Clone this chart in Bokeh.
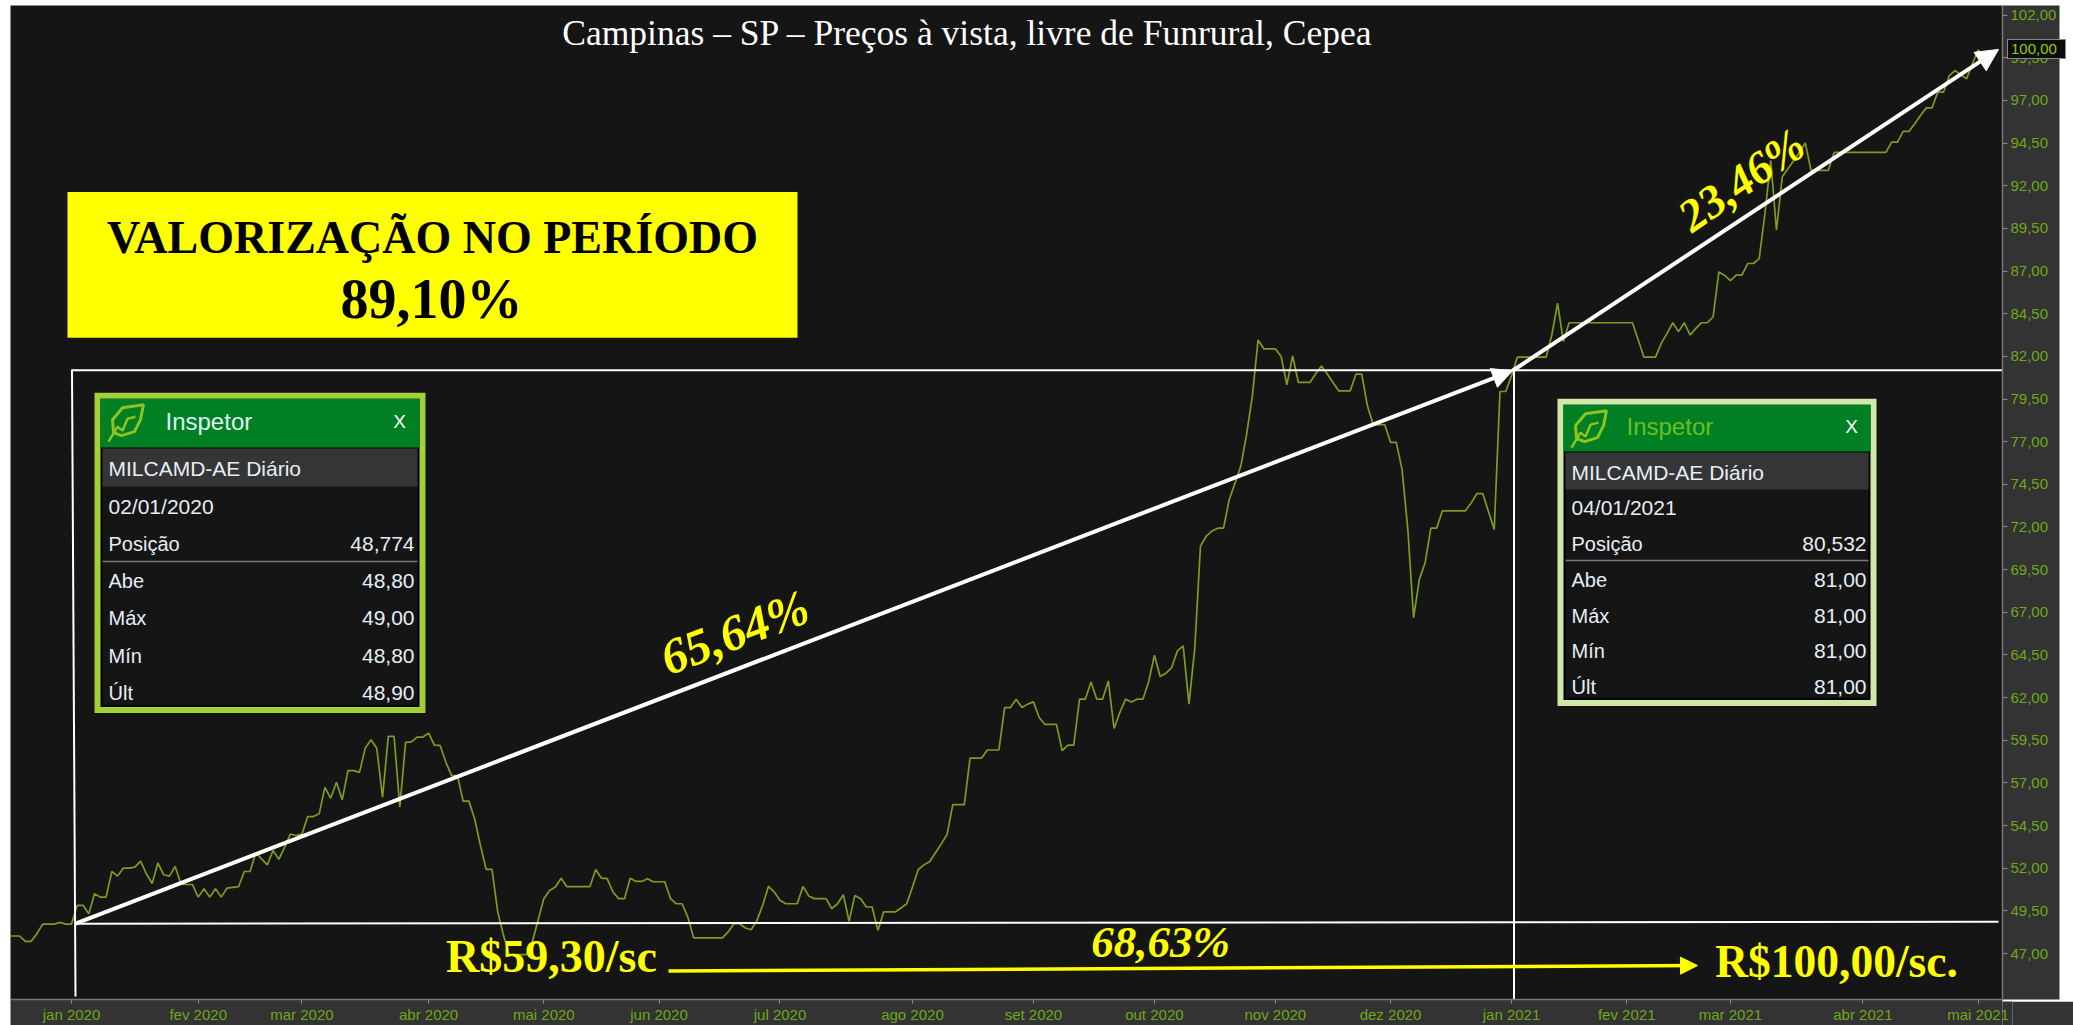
from bokeh.plotting import figure
from bokeh.layouts import column
from bokeh.embed import file_html
from bokeh.resources import INLINE
from bokeh.core.properties import value
from bokeh.models import Range1d, FixedTicker, Arrow, NormalHead, Div

# ---------- data ----------
first_day = -11
prices = [
    48.03, 48.03, 48.03, 47.72, 47.72, 48.17, 48.73, 48.73, 48.73, 48.83, 48.73, 48.73,
    49.83, 49.83, 49.34, 50.51, 50.31, 50.31, 51.81, 51.54, 52.01, 52.01, 52.07, 52.42,
    51.68, 51.11, 52.32, 51.62, 51.54, 52.11, 51.09, 51.05, 51.05, 50.31, 50.80, 50.31,
    50.80, 50.31, 50.84, 50.88, 50.92, 51.81, 51.81, 52.91, 52.55, 52.20, 53.04, 52.52,
    53.24, 54.00, 53.92, 54.00, 55.03, 55.03, 55.19, 56.74, 56.10, 57.04, 56.02, 57.72,
    57.72, 57.62, 59.04, 59.53, 59.03, 56.16, 59.73, 59.73, 55.58, 59.38, 59.41, 59.69,
    59.69, 59.92, 59.22, 59.20, 58.21, 57.43, 57.43, 55.93, 55.93, 54.89, 53.33, 51.93,
    51.93, 49.44, 48.07, 46.94, 46.94, 46.94, 46.94, 47.68, 48.95, 50.22, 50.70, 50.90,
    51.42, 50.92, 50.92, 50.92, 50.92, 50.92, 51.93, 51.42, 51.39, 50.61, 50.22, 50.22,
    51.42, 51.23, 51.23, 51.39, 51.21, 51.21, 51.21, 50.22, 49.92, 49.92, 49.14, 47.92,
    47.92, 47.92, 47.92, 47.92, 47.92, 48.27, 48.75, 48.75, 48.50, 48.40, 48.95, 49.83,
    50.94, 50.61, 50.12, 49.92, 49.92, 49.92, 50.94, 50.37, 50.22, 50.22, 50.22, 49.63,
    49.92, 50.45, 48.89, 50.41, 50.22, 49.73, 49.73, 48.36, 49.44, 49.44, 49.44, 49.67,
    49.92, 50.90, 51.93, 52.20, 52.40, 52.91, 53.43, 53.96, 55.73, 55.73, 55.73, 58.46,
    58.46, 58.46, 58.93, 58.93, 58.93, 61.42, 61.42, 61.91, 61.42, 61.62, 61.75, 60.84,
    60.43, 60.43, 60.43, 58.89, 59.22, 59.22, 61.91, 61.91, 62.92, 61.91, 61.91, 62.98,
    60.19, 61.13, 61.91, 61.75, 61.91, 61.91, 62.92, 64.48, 63.24, 63.43, 63.76, 64.74,
    65.03, 61.62, 64.84, 70.88, 71.46, 71.76, 71.93, 71.93, 73.61, 74.58, 75.56, 77.41,
    79.65, 82.96, 82.44, 82.44, 82.44, 81.99, 80.33, 82.03, 80.47, 80.47, 80.47, 80.98,
    81.44, 80.98, 80.47, 79.98, 79.98, 79.98, 80.96, 80.96, 79.07, 77.99, 77.99, 77.99,
    76.96, 76.96, 75.36, 71.85, 66.69, 68.93, 69.90, 71.93, 71.93, 72.95, 72.95, 72.95,
    72.95, 72.95, 73.41, 73.96, 73.96, 72.91, 71.85, 79.94, 79.94, 80.86, 81.95, 81.95,
    81.95, 81.95, 81.95, 81.95, 83.26, 85.11, 82.87, 83.97, 83.97, 83.97, 83.97, 83.97,
    83.97, 83.97, 83.97, 83.97, 83.97, 83.97, 83.97, 82.96, 81.95, 81.95, 81.95, 82.76,
    83.35, 83.97, 83.45, 83.97, 83.25, 83.64, 83.97, 83.97, 84.32, 86.95, 86.74, 86.43,
    86.76, 86.76, 87.44, 87.44, 87.73, 90.37, 93.48, 89.39, 92.51, 93.00, 93.48, 93.97,
    94.50, 92.90, 92.90, 92.90, 92.90, 93.95, 93.95, 93.95, 93.95, 93.95, 93.95, 93.95,
    93.95, 93.95, 93.95, 94.55, 94.55, 95.18, 95.18, 95.63, 96.11, 96.56, 96.56, 97.48,
    97.48, 98.45, 98.75, 98.51, 98.26, 99.13, 99.95, 99.62,
]
days = [first_day + i for i in range(len(prices))]

month_days = [0, 22, 40, 62, 82, 102, 123, 146, 167, 188, 209, 229, 250, 270, 288, 311, 331]
month_labels = ["jan 2020", "fev 2020", "mar 2020", "abr 2020", "mai 2020", "jun 2020", "jul 2020",
                "ago 2020", "set 2020", "out 2020", "nov 2020", "dez 2020", "jan 2021", "fev 2021",
                "mar 2021", "abr 2021", "mai 2021"]
price_ticks = [47, 49.5, 52, 54.5, 57, 59.5, 62, 64.5, 67, 69.5, 72, 74.5, 77, 79.5, 82, 84.5, 87,
               89.5, 92, 94.5, 97, 99.5, 102]
price_labels = ["47,00", "49,50", "52,00", "54,50", "57,00", "59,50", "62,00", "64,50", "67,00",
                "69,50", "72,00", "74,50", "77,00", "79,50", "82,00", "84,50", "87,00", "89,50",
                "92,00", "94,50", "97,00", "99,50", "102,00"]
last_price = "100,00"

title_text = "Campinas – SP – Preços à vista, livre de Funrural, Cepea"
box_lines = ["VALORIZAÇÃO NO PERÍODO", "89,10%"]
row_names = ["Abe", "Máx", "Mín", "Últ"]
left_panel = dict(symbol="MILCAMD-AE Diário", date="02/01/2020", pos="48,774", vals=["48,80", "49,00", "48,80", "48,90"])
right_panel = dict(symbol="MILCAMD-AE Diário", date="04/01/2021", pos="80,532", vals=["81,00", "81,00", "81,00", "81,00"])

# ---------- figure ----------
DARK = "#151515"; BAND = "#333333"; GREEN = "#6fa818"; YELLOW = "#ffff00"; WHITE = "#ffffff"
SERIF = value("Liberation Serif"); SANS = value("Liberation Sans")

p = figure(width=2073, height=1025, output_backend="svg", toolbar_location=None,
           x_range=Range1d(-10.59, 335.24), y_range=Range1d(44.31, 102.56),
           x_axis_location="below", y_axis_location="right",
           min_border_left=10, min_border_right=71, min_border_top=5, min_border_bottom=24)
p.background_fill_color = DARK
p.border_fill_alpha = 0
p.outline_line_color = None
p.grid.visible = False
p.extra_x_ranges["px"] = Range1d(10, 2002)
p.extra_y_ranges["px"] = Range1d(1001, 5)

xa = p.xaxis[0]
xa.ticker = FixedTicker(ticks=month_days)
xa.major_label_overrides = dict(zip(month_days, month_labels))
ya = p.yaxis[0]
ya.ticker = FixedTicker(ticks=price_ticks)
ya.major_label_overrides = dict(zip(price_ticks, price_labels))
for a in (xa, ya):
    a.background_fill_color = BAND
    a.axis_line_color = "#777777"
    a.axis_line_width = 1.5
    a.major_tick_line_color = "#8a8a8a"
    a.major_tick_in = 0
    a.minor_tick_line_color = None
    a.major_label_text_color = GREEN
    a.major_label_text_font = "Liberation Sans"
    a.major_label_text_font_size = "15px"
xa.major_tick_out = 4
xa.major_label_standoff = 2
ya.major_tick_out = 5
ya.major_label_standoff = 3

PX = dict(x_range_name="px", y_range_name="px")

# price line
p.line(days, prices, line_color="#7c9c22", line_width=1.7)


def txt(x, y, s, size, color, font=SANS, style="normal", align="left", angle=0):
    p.text([x], [y], text=[s], text_font=font, text_font_size=f"{size}px", text_font_style=style,
           text_color=color, text_align=align, text_baseline="middle", angle=angle, angle_units="deg", **PX)

def box(l, r, t, b, color):
    p.quad(left=[l], right=[r], top=[t], bottom=[b], fill_color=color, line_color=None, **PX)

def inspector(panel, l, r, t, b, edge, head_bottom, bar_bottom, title_color, title_x, x_x, title_y,
              ys, sep_y, rx):
    box(l, r, t, b, edge)
    box(l + 6, r - 6, t + 6, b - 6, "#000000")
    box(l + 6, r - 6, t + 6, head_bottom, "#007f24")
    box(l + 8, r - 8, head_bottom + 1, b - 8, DARK)
    box(l + 8, r - 8, head_bottom + 1, bar_bottom, "#353535")
    # leaf icon
    ix, iy = l + 14, t + 12
    p.patch([ix + 35, ix + 14, ix + 4, ix + 5, ix + 13, ix + 26, ix + 32],
            [iy, iy + 3, iy + 15, iy + 28, iy + 31, iy + 27, iy + 15],
            fill_color=None, line_color="#8fc31f", line_width=3, **PX)
    p.line([ix, ix + 9, ix + 14, ix + 19, ix + 27], [iy + 37, iy + 22, iy + 26, iy + 14, iy + 12],
           line_color="#8fc31f", line_width=2.5, **PX)
    txt(title_x, title_y, "Inspetor", 24, title_color)
    txt(x_x, title_y, "X", 19, "#ffffff", align="center")
    tx = l + 14
    txt(tx, ys[0], panel["symbol"], 21, "#e6eef5")
    txt(tx, ys[1], panel["date"], 21, "#e6eef5")
    txt(tx, ys[2], "Posição", 20, "#e6eef5")
    txt(rx, ys[2], panel["pos"], 21, "#e6eef5", align="right")
    p.line([l + 8, r - 8], [sep_y, sep_y], line_color="#7a7a7a", line_width=1.5, **PX)
    for name, val, y in zip(row_names, panel["vals"], ys[3:]):
        txt(tx, y, name, 20, "#e6eef5")
        txt(rx, y, val, 21, "#e6eef5", align="right")

# yellow box
box(67, 797, 192, 338, YELLOW)
txt(432, 237, box_lines[0], 46, "#000000", font=SERIF, style="bold", align="center")
txt(431, 299, box_lines[1], 56, "#000000", font=SERIF, style="bold", align="center")

# title
txt(967, 33, title_text, 35.5, WHITE, font=SERIF, align="center")

# inspectors
inspector(left_panel, 94, 425, 393, 714, "#a2d039", 448, 487, "#dff4f4", 165, 399, 422,
          [469, 507, 545, 582, 619, 657, 694], 562, 414)
inspector(right_panel, 1557, 1876, 399, 707, "#cfe8a8", 452, 490, "#6cbf1f", 1626, 1851, 427,
          [473, 508, 545, 581, 617, 652, 688], 561, 1866)

# guide lines
p.line([75, 1998], [925, 923], line_color=WHITE, line_width=2, **PX)
p.line([71, 2002], [370.5, 370.5], line_color=WHITE, line_width=2, **PX)
p.line([71.5, 75], [370, 998], line_color=WHITE, line_width=2, **PX)
p.line([1513.5, 1513.5], [370, 1001], line_color=WHITE, line_width=2, **PX)

# arrows
p.add_layout(Arrow(x_start=75, y_start=925, x_end=1512, y_end=371, line_color=WHITE, line_width=4,
                   end=NormalHead(size=20, fill_color=WHITE, line_color=WHITE), **PX))
p.add_layout(Arrow(x_start=1512, y_start=371, x_end=1998, y_end=49, line_color=WHITE, line_width=4,
                   end=NormalHead(size=22, fill_color=WHITE, line_color=WHITE), **PX))
p.add_layout(Arrow(x_start=668, y_start=972.5, x_end=1697, y_end=967, line_color=YELLOW, line_width=3.5,
                   end=NormalHead(size=17, fill_color=YELLOW, line_color=YELLOW), **PX))

# annotation texts
txt(734, 633, "65,64%", 50, YELLOW, font=SERIF, style="bold italic", align="center", angle=21)
txt(1741, 180, "23,46%", 46, YELLOW, font=SERIF, style="bold italic", align="center", angle=35)
txt(1160, 943, "68,63%", 45, YELLOW, font=SERIF, style="bold italic", align="center")
txt(551, 958, "R$59,30/sc", 46, YELLOW, font=SERIF, style="bold", align="center")
txt(1836, 963, "R$100,00/sc.", 45.5, YELLOW, font=SERIF, style="bold", align="center")

# last price tag, laid over the axis band
tag = Div(text=last_price, width=59, height=20, margin=(-986, 0, 0, 2007),
          styles={"background-color": "#0d0d0d", "border": "1.5px solid #8a8a8a", "box-sizing": "border-box",
                  "color": "#8fce00", "font-family": "Liberation Sans", "font-size": "15px",
                  "line-height": "17px", "padding-left": "3px"})

# bottom-right corner of the axis bands, behind the main figure
corner = figure(width=71, height=24, output_backend="svg", toolbar_location=None,
                x_axis_type=None, y_axis_type=None, min_border=0,
                x_range=Range1d(0, 1), y_range=Range1d(0, 1), margin=(1001, 0, -1025, 2002))
corner.background_fill_color = BAND
corner.border_fill_color = BAND
corner.outline_line_color = None
corner.grid.visible = False
corner.line([0, 1], [0, 0], line_color=BAND)

page = column(corner, p, tag, spacing=0)
open("out.html", "w").write(file_html(page, INLINE))
